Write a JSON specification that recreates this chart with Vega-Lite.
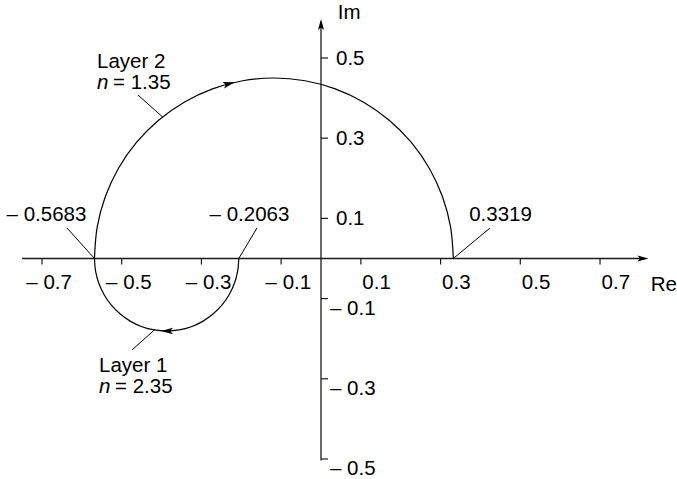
{
  "$schema": "https://vega.github.io/schema/vega-lite/v6.json",
  "width": 677,
  "height": 479,
  "padding": 0,
  "autosize": {"type": "none"},
  "background": "white",
  "config": {
    "view": {"stroke": null},
    "text": {"font": "Liberation Sans", "fontSize": 20.5, "color": "black"}
  },
  "datasets": {
    "loci": [
      {"layer": "Layer 1", "i": 0, "x": -0.2063, "y": 0},
      {"layer": "Layer 1", "i": 1, "x": -0.2091, "y": -0.0314},
      {"layer": "Layer 1", "i": 2, "x": -0.2172, "y": -0.0619},
      {"layer": "Layer 1", "i": 3, "x": -0.2305, "y": -0.0905},
      {"layer": "Layer 1", "i": 4, "x": -0.2487, "y": -0.1163},
      {"layer": "Layer 1", "i": 5, "x": -0.271, "y": -0.1386},
      {"layer": "Layer 1", "i": 6, "x": -0.2968, "y": -0.1568},
      {"layer": "Layer 1", "i": 7, "x": -0.3254, "y": -0.1701},
      {"layer": "Layer 1", "i": 8, "x": -0.3559, "y": -0.1782},
      {"layer": "Layer 1", "i": 9, "x": -0.3873, "y": -0.181},
      {"layer": "Layer 1", "i": 10, "x": -0.4187, "y": -0.1782},
      {"layer": "Layer 1", "i": 11, "x": -0.4492, "y": -0.1701},
      {"layer": "Layer 1", "i": 12, "x": -0.4778, "y": -0.1568},
      {"layer": "Layer 1", "i": 13, "x": -0.5036, "y": -0.1386},
      {"layer": "Layer 1", "i": 14, "x": -0.5259, "y": -0.1163},
      {"layer": "Layer 1", "i": 15, "x": -0.5441, "y": -0.0905},
      {"layer": "Layer 1", "i": 16, "x": -0.5574, "y": -0.0619},
      {"layer": "Layer 1", "i": 17, "x": -0.5655, "y": -0.0314},
      {"layer": "Layer 1", "i": 18, "x": -0.5683, "y": 0},
      {"layer": "Layer 2", "i": 0, "x": -0.5683, "y": 0},
      {"layer": "Layer 2", "i": 1, "x": -0.5615, "y": 0.0781},
      {"layer": "Layer 2", "i": 2, "x": -0.5412, "y": 0.1539},
      {"layer": "Layer 2", "i": 3, "x": -0.508, "y": 0.2251},
      {"layer": "Layer 2", "i": 4, "x": -0.463, "y": 0.2893},
      {"layer": "Layer 2", "i": 5, "x": -0.4075, "y": 0.3448},
      {"layer": "Layer 2", "i": 6, "x": -0.3433, "y": 0.3898},
      {"layer": "Layer 2", "i": 7, "x": -0.2721, "y": 0.423},
      {"layer": "Layer 2", "i": 8, "x": -0.1963, "y": 0.4433},
      {"layer": "Layer 2", "i": 9, "x": -0.1182, "y": 0.4501},
      {"layer": "Layer 2", "i": 10, "x": -0.0401, "y": 0.4433},
      {"layer": "Layer 2", "i": 11, "x": 0.0357, "y": 0.423},
      {"layer": "Layer 2", "i": 12, "x": 0.1069, "y": 0.3898},
      {"layer": "Layer 2", "i": 13, "x": 0.1711, "y": 0.3448},
      {"layer": "Layer 2", "i": 14, "x": 0.2266, "y": 0.2893},
      {"layer": "Layer 2", "i": 15, "x": 0.2716, "y": 0.2251},
      {"layer": "Layer 2", "i": 16, "x": 0.3048, "y": 0.1539},
      {"layer": "Layer 2", "i": 17, "x": 0.3251, "y": 0.0781},
      {"layer": "Layer 2", "i": 18, "x": 0.3319, "y": 0}
    ],
    "axisLines": [
      {"x": -0.75, "y": 0, "x2": 0.8, "y2": 0},
      {"x": 0, "y": -0.504, "x2": 0, "y2": 0.59}
    ],
    "reTicks": [
      {"x": -0.7, "y": 0, "t": "– 0.7"},
      {"x": -0.5, "y": 0, "t": "– 0.5"},
      {"x": -0.3, "y": 0, "t": "– 0.3"},
      {"x": -0.1, "y": 0, "t": "– 0.1"},
      {"x": 0.1, "y": 0, "t": "0.1"},
      {"x": 0.3, "y": 0, "t": "0.3"},
      {"x": 0.5, "y": 0, "t": "0.5"},
      {"x": 0.7, "y": 0, "t": "0.7"}
    ],
    "imTicks": [
      {"x": 0, "y": 0.5, "t": "0.5"},
      {"x": 0, "y": 0.3, "t": "0.3"},
      {"x": 0, "y": 0.1, "t": "0.1"},
      {"x": 0, "y": -0.1, "t": "– 0.1"},
      {"x": 0, "y": -0.3, "t": "– 0.3"},
      {"x": 0, "y": -0.5, "t": "– 0.5"}
    ],
    "leaders": [
      {"x": -0.6372, "y": 0.076, "x2": -0.5683, "y2": 0},
      {"x": -0.1606, "y": 0.076, "x2": -0.2063, "y2": 0},
      {"x": 0.424, "y": 0.076, "x2": 0.3319, "y2": 0},
      {"x": -0.4591, "y": 0.4077, "x2": -0.3964, "y2": 0.352},
      {"x": -0.4742, "y": -0.2282, "x2": -0.4165, "y2": -0.177}
    ],
    "crossings": [
      {"x": -0.6887, "y": 0.0935, "t": "– 0.5683"},
      {"x": -0.1794, "y": 0.0935, "t": "– 0.2063"},
      {"x": 0.4503, "y": 0.0935, "t": "0.3319"}
    ],
    "layerNotes": [
      {"x": -0.562, "y": 0.475, "name": "Layer 2", "n": "n", "eq": "= 1.35"},
      {"x": -0.557, "y": -0.283, "name": "Layer 1", "n": "n", "eq": "= 2.35"}
    ],
    "axisNames": [
      {"x": 0.042, "y": 0.596, "t": "Im"},
      {"x": 0.827, "y": -0.08, "t": "Re"}
    ]
  },
  "encoding": {
    "x": {"field": "x", "type": "quantitative", "scale": {"domain": [-0.8053, 0.8931], "nice": false, "zero": false}, "axis": null},
    "y": {"field": "y", "type": "quantitative", "scale": {"domain": [-0.5499, 0.6446], "nice": false, "zero": false}, "axis": null}
  },
  "layer": [
    {
      "data": {"name": "axisLines"},
      "mark": {"type": "rule", "color": "#1a1a1a", "strokeWidth": 1.3},
      "encoding": {"x2": {"field": "x2"}, "y2": {"field": "y2"}}
    },
    {
      "data": {"name": "reTicks"},
      "mark": {"type": "rule", "color": "#1a1a1a", "strokeWidth": 1.2},
      "encoding": {"y2": {"datum": -0.015}}
    },
    {
      "data": {"name": "imTicks"},
      "mark": {"type": "rule", "color": "#1a1a1a", "strokeWidth": 1.2},
      "encoding": {"x2": {"datum": 0.0176}}
    },
    {
      "data": {"name": "reTicks"},
      "mark": {"type": "text", "align": "right", "baseline": "alphabetic", "dx": 30, "dy": 31},
      "encoding": {"text": {"field": "t"}}
    },
    {
      "data": {"name": "imTicks"},
      "transform": [{"filter": "datum.y > 0"}],
      "mark": {"type": "text", "align": "left", "baseline": "alphabetic", "dx": 15, "dy": 7},
      "encoding": {"text": {"field": "t"}}
    },
    {
      "data": {"name": "imTicks"},
      "transform": [{"filter": "datum.y < 0"}],
      "mark": {"type": "text", "align": "left", "baseline": "alphabetic", "dx": 9, "dy": 16},
      "encoding": {"text": {"field": "t"}}
    },
    {
      "data": {"name": "axisNames"},
      "mark": {"type": "text", "align": "left", "baseline": "alphabetic"},
      "encoding": {"text": {"field": "t"}}
    },
    {
      "data": {"name": "loci"},
      "mark": {"type": "line", "color": "black", "strokeWidth": 1.2, "interpolate": "catmull-rom"},
      "encoding": {"detail": {"field": "layer"}, "order": {"field": "i", "type": "quantitative"}}
    },
    {
      "data": {"name": "leaders"},
      "mark": {"type": "rule", "color": "black", "strokeWidth": 1},
      "encoding": {"x2": {"field": "x2"}, "y2": {"field": "y2"}}
    },
    {
      "data": {"name": "crossings"},
      "mark": {"type": "text", "align": "center", "baseline": "alphabetic"},
      "encoding": {"text": {"field": "t"}}
    },
    {
      "data": {"name": "layerNotes"},
      "mark": {"type": "text", "align": "left", "baseline": "alphabetic"},
      "encoding": {"text": {"field": "name"}}
    },
    {
      "data": {"name": "layerNotes"},
      "mark": {"type": "text", "align": "left", "baseline": "alphabetic", "fontStyle": "italic", "dy": 21},
      "encoding": {"text": {"field": "n"}}
    },
    {
      "data": {"name": "layerNotes"},
      "mark": {"type": "text", "align": "left", "baseline": "alphabetic", "dx": 16, "dy": 21},
      "encoding": {"text": {"field": "eq"}}
    },
    {
      "data": {"values": [{"x": -0.2308, "y": 0.4358}]},
      "mark": {"type": "point", "shape": "M1,0L-1,-0.55L-0.55,0L-1,0.55Z", "filled": true, "color": "black", "opacity": 1, "size": 144, "angle": 345.5}
    },
    {
      "data": {"values": [{"x": -0.3864, "y": -0.181}]},
      "mark": {"type": "point", "shape": "M1,0L-1,-0.55L-0.55,0L-1,0.55Z", "filled": true, "color": "black", "opacity": 1, "size": 144, "angle": 180}
    },
    {
      "data": {"values": [{"x": 0, "y": 0.5835}]},
      "mark": {"type": "point", "shape": "M1,0L-1,-0.55L-0.55,0L-1,0.55Z", "filled": true, "color": "black", "opacity": 1, "size": 121, "angle": 270}
    },
    {
      "data": {"values": [{"x": 0.8078, "y": 0}]},
      "mark": {"type": "point", "shape": "M1,0L-1,-0.55L-0.55,0L-1,0.55Z", "filled": true, "color": "black", "opacity": 1, "size": 121, "angle": 0}
    }
  ]
}
